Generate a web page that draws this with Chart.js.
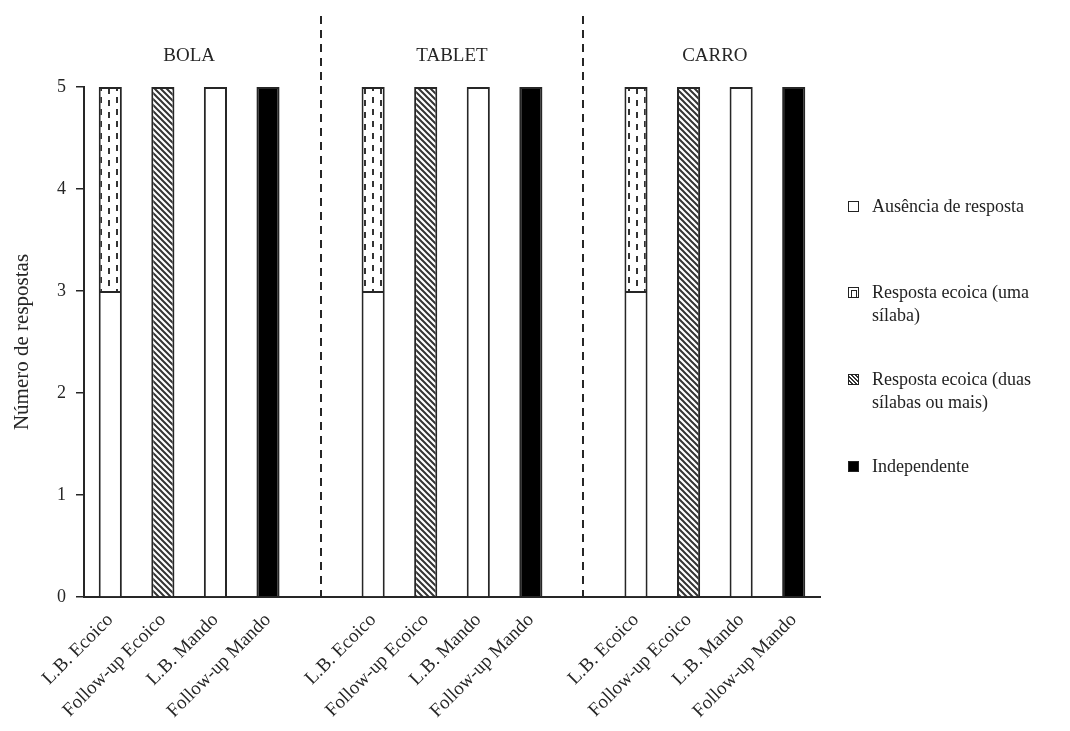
<!DOCTYPE html>
<html>
<head>
<meta charset="utf-8">
<script src="https://cdn.jsdelivr.net/npm/chart.js@4.4.0/dist/chart.umd.min.js"></script>
<style>
  body { margin: 0; background: #fff; }
  #wrap { position: relative; width: 1070px; height: 731px; }
  #legend { position: absolute; left: 846px; top: 0; font-family: "Liberation Serif", serif; font-size: 18px; color: #222; }
  .item { position: absolute; left: 0; width: 220px; padding-left: 26px; line-height: 23px; white-space: nowrap; }
  .sw { position: absolute; left: 2px; top: 6px; width: 11px; height: 11px; border: 1px solid #222; box-sizing: border-box; background: #fff; }
</style>
</head>
<body>
<div id="wrap">
  <canvas id="c" width="1070" height="731"></canvas>
  <div id="legend"></div>
</div>
<script>
const labels = ['L.B. Ecoico', 'Follow-up Ecoico', 'L.B. Mando', 'Follow-up Mando', '',
                'L.B. Ecoico', 'Follow-up Ecoico', 'L.B. Mando', 'Follow-up Mando', '',
                'L.B. Ecoico', 'Follow-up Ecoico', 'L.B. Mando', 'Follow-up Mando'];
const groups = ['BOLA', 'TABLET', 'CARRO'];
const ausencia     = [3, null, 5, null, null, 3, null, 5, null, null, 3, null, 5, null];
const umaSilaba    = [2, null, null, null, null, 2, null, null, null, null, 2, null, null, null];
const duasSilabas  = [null, 5, null, null, null, null, 5, null, null, null, null, 5, null, null];
const independente = [null, null, null, 5, null, null, null, null, 5, null, null, null, null, 5];
const yTicks = [0, 1, 2, 3, 4, 5];

const ink = '#262626';
const serif = '"Liberation Serif", "Times New Roman", serif';

// hachura diagonal para "duas sílabas"
function hatch() {
    const p = document.createElement('canvas');
    p.width = 6; p.height = 6;
    const g = p.getContext('2d');
    g.fillStyle = '#fff';
    g.fillRect(0, 0, 6, 6);
    g.strokeStyle = '#333';
    g.lineWidth = 2;
    g.beginPath();
    g.moveTo(-1, -1); g.lineTo(7, 7);
    g.moveTo(-1, 5); g.lineTo(1, 7);
    g.moveTo(5, -1); g.lineTo(7, 1);
    g.stroke();
    return g.createPattern(p, 'repeat');
}

// traços verticais desencontrados para "uma sílaba"
function dashes() {
    const p = document.createElement('canvas');
    p.width = 16; p.height = 12;
    const g = p.getContext('2d');
    g.fillStyle = '#fff';
    g.fillRect(0, 0, 16, 12);
    g.fillStyle = '#333';
    g.fillRect(4, 1, 2, 6);
    g.fillRect(12, 4, 2, 6);
    return g.createPattern(p, 'repeat');
}

// linhas tracejadas e títulos dos grupos
const extras = {
    id: 'extras',
    afterDatasetsDraw(chart) {
        const ctx = chart.ctx;
        const x = chart.scales.x;
        const area = chart.chartArea;
        ctx.save();
        ctx.strokeStyle = ink;
        ctx.lineWidth = 2;
        ctx.setLineDash([8, 6]);
        [4, 9].forEach(i => {
            const px = Math.round(x.getPixelForValue(i));
            ctx.beginPath();
            ctx.moveTo(px, 16);
            ctx.lineTo(px, area.bottom);
            ctx.stroke();
        });
        ctx.setLineDash([]);
        ctx.fillStyle = ink;
        ctx.font = '19px ' + serif;
        ctx.textAlign = 'center';
        ctx.textBaseline = 'middle';
        groups.forEach((g, k) => {
            ctx.fillText(g, x.getPixelForValue(k * 5 + 1.5), 56);
        });
        ctx.restore();
    }
};

const common = { borderColor: ink, borderWidth: 2, barPercentage: 0.44, categoryPercentage: 1 };

new Chart(document.getElementById('c'), {
    type: 'bar',
    data: {
        labels: labels,
        datasets: [
            { label: 'Ausência de resposta', data: ausencia, backgroundColor: '#fff', ...common },
            { label: 'Resposta ecoica (uma sílaba)', data: umaSilaba, backgroundColor: dashes(), ...common },
            { label: 'Resposta ecoica (duas sílabas ou mais)', data: duasSilabas, backgroundColor: hatch(), ...common },
            { label: 'Independente', data: independente, backgroundColor: '#000', ...common }
        ]
    },
    options: {
        responsive: false,
        animation: false,
        layout: { padding: { top: 87, right: 250, left: 0, bottom: 0 } },
        plugins: { legend: { display: false }, tooltip: { enabled: false } },
        scales: {
            x: {
                stacked: true,
                grid: { display: false },
                border: { color: ink, width: 2 },
                ticks: {
                    color: ink, font: { family: serif, size: 19 },
                    minRotation: 45, maxRotation: 45, autoSkip: false, padding: 4
                },
                afterFit(s) { s.height = 134; }
            },
            y: {
                stacked: true,
                min: 0, max: 5,
                afterBuildTicks(s) { s.ticks = yTicks.map(v => ({ value: v })); },
                grid: { drawOnChartArea: false, color: ink, tickLength: 8, lineWidth: 1.5 },
                border: { color: ink, width: 2 },
                ticks: { color: ink, font: { family: serif, size: 18 }, padding: 10 },
                title: { display: true, text: 'Número de respostas', color: ink, font: { family: serif, size: 21 }, padding: { top: 10, bottom: 0 } },
                afterFit(s) { s.width = 84; }
            }
        }
    },
    plugins: [extras]
});

// legenda em HTML (texto com quebra de linha)
const legendItems = [
    { text: 'Ausência de resposta', top: 195, sw: '' },
    { text: 'Resposta ecoica (uma<br>sílaba)', top: 281, sw: 'uma' },
    { text: 'Resposta ecoica (duas<br>sílabas ou mais)', top: 368, sw: 'duas' },
    { text: 'Independente', top: 455, sw: 'ind' }
];
const leg = document.getElementById('legend');
legendItems.forEach(it => {
    const d = document.createElement('div');
    d.className = 'item';
    d.style.top = it.top + 'px';
    let style = '';
    let inner = '';
    if (it.sw === 'uma') inner = '<div style="position:absolute;left:2px;top:2px;width:4px;height:6px;border:1px solid #222;border-bottom:none;"></div>';
    if (it.sw === 'duas') style = 'background:repeating-linear-gradient(45deg,#fff 0 1.5px,#333 1.5px 3px);';
    if (it.sw === 'ind') style = 'background:#000;';
    d.innerHTML = '<div class="sw" style="' + style + '">' + inner + '</div>' + it.text;
    leg.appendChild(d);
});
</script>
</body>
</html>
